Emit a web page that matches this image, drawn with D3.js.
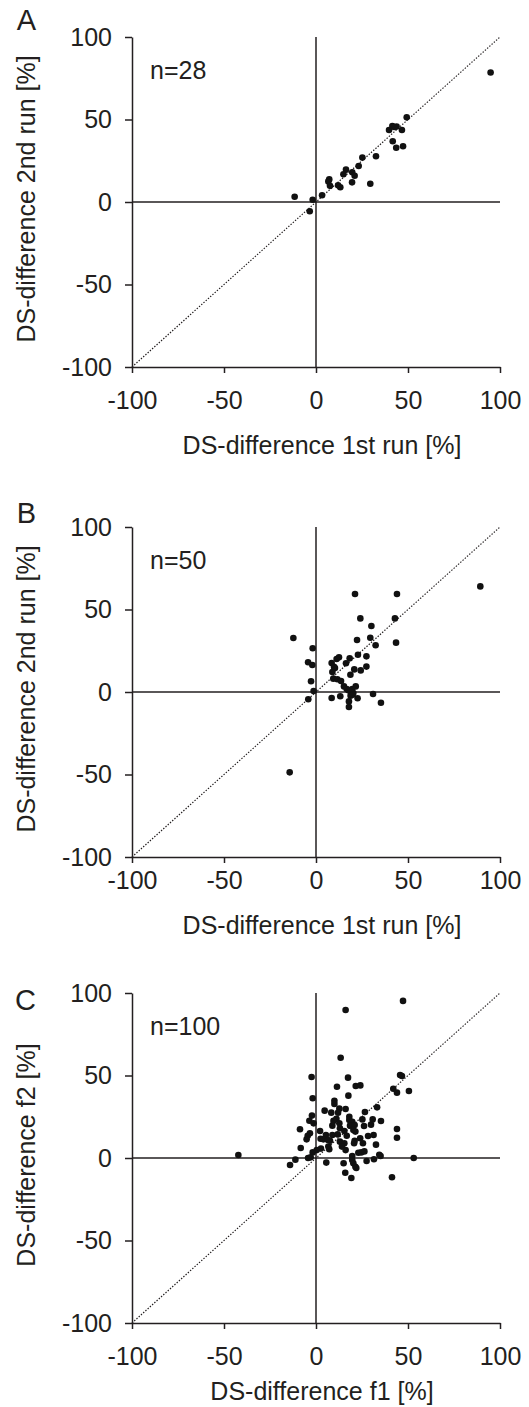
<!DOCTYPE html>
<html>
<head>
<meta charset="utf-8">
<script src="https://cdn.jsdelivr.net/npm/d3@7"></script>
<style>
  body { margin: 0; background: #fff; }
  svg { display: block; font-family: "Liberation Sans", Arial, sans-serif; }
  .axis path, .axis line { stroke: #231f20; stroke-width: 1.5; }
  .axis text { fill: #231f20; font-size: 25px; font-family: "Liberation Sans", Arial, sans-serif; }
</style>
</head>
<body>
<div id="chart"></div>
<script>
// tick values shared by all three panels
var ticks = [-100, -50, 0, 50, 100];

// panel A: 1st run vs 2nd run, n=28
var dataA = [
    [94.9, 78.5], [49.3, 51.3], [39.7, 43.6], [41.5, 46.1], [43.8, 45.7], [46.7, 43.6],
    [41.7, 36.8], [43.6, 32.9], [47.3, 33.8], [32.6, 27.7], [25.2, 26.9], [23.2, 21.8],
    [16.3, 19.6], [14.9, 16.8], [19.7, 18.0], [21.0, 15.9], [19.6, 11.9], [29.5, 11.1],
    [7.2, 13.7], [6.7, 12.5], [7.6, 9.8], [12.0, 10.1], [13.2, 8.9], [3.3, 4.1],
    [-11.6, 3.2], [-1.8, 1.4], [-3.4, -5.6], [42.5, 45.5]
];

// panel B: 1st run vs 2nd run, n=50
var dataB = [
    [89.3, 64.0], [21.2, 59.4], [44.0, 59.4], [24.1, 44.6], [42.9, 44.6], [30.1, 40.0],
    [-12.3, 32.7], [29.5, 32.9], [22.3, 31.5], [43.5, 29.9], [32.4, 28.3], [-1.8, 26.5],
    [22.8, 22.6], [27.4, 21.6], [12.5, 21.0], [11.2, 20.0], [18.3, 20.4], [16.3, 17.4],
    [8.5, 17.6], [-4.3, 18.0], [-2.0, 16.4], [10.3, 14.5], [20.8, 13.7], [24.3, 13.1],
    [27.4, 15.4], [8.9, 12.1], [18.7, 10.5], [9.4, 8.1], [11.6, 7.7], [13.6, 6.7],
    [15.2, 3.4], [-2.7, 6.5], [21.6, 3.4], [19.7, 1.8], [17.6, 1.0], [20.3, -0.6],
    [18.8, -2.2], [-1.3, 0.6], [8.5, -3.6], [13.2, -2.6], [22.6, -3.8], [31.0, -1.2],
    [35.3, -6.5], [-4.2, -4.4], [17.9, -9.1], [-14.3, -48.7], [16.7, 1.8], [9.8, 15.2],
    [17.9, -5.7], [19.9, -1.6]
];

// panel C: f1 vs f2, n=100
var dataC = [
    [47.3, 95.2], [16.1, 89.7], [13.4, 60.8], [-2.4, 49.1], [17.4, 48.7], [45.7, 50.3],
    [46.7, 49.7], [21.6, 43.6], [24.1, 44.0], [11.4, 43.2], [42.0, 42.0], [44.0, 39.6],
    [50.5, 40.6], [-1.8, 36.2], [17.6, 37.8], [10.0, 34.7], [10.0, 32.7], [33.2, 30.7],
    [12.7, 29.9], [16.1, 29.7], [4.7, 28.7], [8.3, 27.5], [12.0, 27.5], [26.6, 27.9],
    [-2.2, 25.7], [18.1, 25.0], [11.1, 23.8], [18.1, 23.0], [25.2, 23.4], [30.8, 23.4],
    [35.3, 22.4], [-3.6, 22.6], [-1.3, 21.0], [19.7, 22.0], [8.9, 19.6], [18.5, 19.6],
    [21.0, 20.0], [26.1, 19.4], [29.9, 20.2], [13.0, 18.0], [15.4, 16.4], [21.4, 16.0],
    [-8.7, 17.4], [44.0, 17.6], [2.2, 16.4], [-3.3, 15.0], [5.4, 13.9], [8.9, 13.9],
    [11.8, 14.3], [16.7, 13.5], [28.3, 13.3], [31.3, 13.9], [-4.5, 13.5], [-5.1, 11.3],
    [2.5, 11.7], [4.0, 11.3], [13.0, 9.9], [7.6, 10.5], [21.0, 10.5], [20.7, 8.9],
    [15.4, 8.9], [25.5, 8.9], [32.6, 8.1], [44.0, 12.3], [-8.3, 6.1], [2.7, 5.7],
    [6.7, 6.9], [7.2, 5.3], [16.1, 4.8], [-1.8, 3.4], [19.7, 1.2], [23.0, 3.2],
    [24.6, 3.4], [26.3, 4.0], [34.4, 2.0], [35.1, 1.2], [-42.2, 1.8], [-11.2, -1.0],
    [-14.1, -4.2], [-4.3, 0.0], [-2.9, 0.4], [5.6, -2.8], [15.0, -3.2], [19.7, -1.2],
    [20.3, -3.2], [21.4, -5.3], [21.9, -6.1], [27.5, -1.8], [31.5, -0.8], [53.1, 0.0],
    [15.9, -8.9], [19.2, -12.1], [41.3, -11.7], [12.7, 21.0], [6.5, 10.9], [20.3, 17.0],
    [14.1, 6.9], [0.4, 4.8], [9.5, 22.5], [24.0, 12.0]
];

var panels = [
    {letter: "A", n: "n=28", data: dataA, top: 37, bottom: 367, letterY: 30,
     xTitle: "DS-difference 1st run [%]", yTitle: "DS-difference 2nd run [%]",
     tickPad: 18, xTitleY: 454},
    {letter: "B", n: "n=50", data: dataB, top: 527, bottom: 857, letterY: 523,
     xTitle: "DS-difference 1st run [%]", yTitle: "DS-difference 2nd run [%]",
     tickPad: 8, xTitleY: 934},
    {letter: "C", n: "n=100", data: dataC, top: 993, bottom: 1323, letterY: 1010,
     xTitle: "DS-difference f1 [%]", yTitle: "DS-difference f2 [%]",
     tickPad: 18, xTitleY: 1400}
];

var width = 529, height = 1407;
var left = 132, right = 500;
var ink = "#231f20";

// plain hyphen for negatives, like the original
var fmt = function(d) { return String(d); };

var svg = d3.select("#chart").append("svg")
    .attr("width", width)
    .attr("height", height);

var x = d3.scaleLinear().domain([-100, 100]).range([left, right]);

panels.forEach(function(p) {
    var y = d3.scaleLinear().domain([-100, 100]).range([p.bottom, p.top]);
    var g = svg.append("g");

    // axes
    g.append("g")
        .attr("class", "axis")
        .attr("transform", "translate(" + left + ",0)")
        .call(d3.axisLeft(y).tickValues(ticks).tickFormat(fmt)
            .tickSize(7).tickSizeOuter(0).tickPadding(13));

    g.append("g")
        .attr("class", "axis")
        .attr("transform", "translate(0," + p.bottom + ")")
        .call(d3.axisBottom(x).tickValues(ticks).tickFormat(fmt)
            .tickSize(6).tickSizeOuter(0).tickPadding(p.tickPad));

    // zero lines
    g.append("line")
        .attr("x1", x(-100)).attr("x2", x(100))
        .attr("y1", y(0)).attr("y2", y(0))
        .attr("stroke", ink).attr("stroke-width", 1.5);
    g.append("line")
        .attr("x1", x(0)).attr("x2", x(0))
        .attr("y1", y(-100)).attr("y2", y(100))
        .attr("stroke", ink).attr("stroke-width", 1.5);

    // identity line
    g.append("line")
        .attr("x1", x(-100)).attr("y1", y(-100))
        .attr("x2", x(100)).attr("y2", y(100))
        .attr("stroke", ink).attr("stroke-width", 1.2)
        .attr("stroke-dasharray", "1.4,1.6");

    // dots
    g.selectAll(".dot")
        .data(p.data)
        .enter().append("circle")
        .attr("class", "dot")
        .attr("cx", function(d) { return x(d[0]); })
        .attr("cy", function(d) { return y(d[1]); })
        .attr("r", 3.3)
        .attr("fill", "#111");

    // texts
    g.append("text")
        .attr("x", 150).attr("y", p.top + 42)
        .attr("font-size", 25).attr("fill", ink)
        .text(p.n);

    g.append("text")
        .attr("x", 36).attr("y", p.letterY)
        .attr("text-anchor", "end")
        .attr("font-size", 29).attr("fill", ink)
        .text(p.letter);

    g.append("text")
        .attr("x", 322).attr("y", p.xTitleY)
        .attr("text-anchor", "middle")
        .attr("font-size", 25).attr("fill", ink)
        .text(p.xTitle);

    g.append("text")
        .attr("transform", "translate(35," + ((p.top + p.bottom) / 2 - 3) + ") rotate(-90)")
        .attr("text-anchor", "middle")
        .attr("font-size", 25).attr("fill", ink)
        .text(p.yTitle);
});
</script>
</body>
</html>
